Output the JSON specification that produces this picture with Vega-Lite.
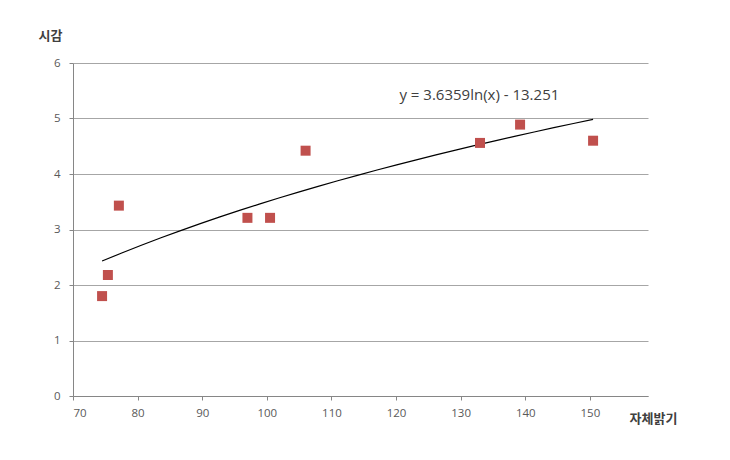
{
  "$schema": "https://vega.github.io/schema/vega-lite/v6.json",
  "width": 575,
  "height": 333,
  "autosize": {"type": "none"},
  "padding": {"left": 73, "top": 63, "right": 82, "bottom": 64},
  "background": "white",
  "datasets": {
    "pts": [
      {"x": 74.5, "y": 1.8},
      {"x": 75.4, "y": 2.18},
      {"x": 77.1, "y": 3.43},
      {"x": 97.0, "y": 3.21},
      {"x": 100.5, "y": 3.21},
      {"x": 106.0, "y": 4.42},
      {"x": 133.0, "y": 4.56},
      {"x": 139.2, "y": 4.89},
      {"x": 150.5, "y": 4.6}
    ],
    "eq": [{"x": 132.9, "y": 5.43, "label": "y = 3.6359ln(x) - 13.251"}]
  },
  "layer": [
    {
      "data": {"name": "pts"},
      "transform": [{"regression": "y", "on": "x", "method": "log"}],
      "mark": {"type": "line", "color": "black", "strokeWidth": 1.2},
      "encoding": {
        "x": {"field": "x", "type": "quantitative"},
        "y": {"field": "y", "type": "quantitative"}
      }
    },
    {
      "data": {"name": "pts"},
      "mark": {"type": "point", "shape": "square", "filled": true, "size": 100, "color": "#C0504D", "opacity": 1},
      "encoding": {
        "x": {
          "field": "x", "type": "quantitative",
          "scale": {"domain": [70, 159], "nice": false, "zero": false},
          "axis": {
            "title": "자체밝기",
            "values": [70, 80, 90, 100, 110, 120, 130, 140, 150],
            "format": "d",
            "grid": false,
            "domainColor": "#868686",
            "tickColor": "#868686",
            "tickSize": 4,
            "labelPadding": 7,
            "labelFont": "Open Sans",
            "labelFontSize": 11.5,
            "labelColor": "#595959",
            "titleFont": "Noto Sans CJK KR",
            "titleFontSize": 13,
            "titleFontWeight": "bold",
            "titleColor": "#404040",
            "titleAnchor": "start",
            "titleAlign": "center",
            "titleBaseline": "middle",
            "titleX": 580,
            "titleY": 22
          }
        },
        "y": {
          "field": "y", "type": "quantitative",
          "scale": {"domain": [0, 6], "nice": false},
          "axis": {
            "title": "시감",
            "values": [0, 1, 2, 3, 4, 5, 6],
            "format": "d",
            "grid": true,
            "gridColor": "#a6a6a6",
            "gridWidth": 1,
            "domainColor": "#868686",
            "tickColor": "#868686",
            "tickSize": 4,
            "labelPadding": 9,
            "labelFont": "Open Sans",
            "labelFontSize": 11.5,
            "labelColor": "#595959",
            "titleFont": "Noto Sans CJK KR",
            "titleFontSize": 13,
            "titleFontWeight": "bold",
            "titleColor": "#404040",
            "titleAngle": 0,
            "titleAlign": "center",
            "titleBaseline": "middle",
            "titleX": -23,
            "titleY": -28
          }
        }
      }
    },
    {
      "data": {"name": "eq"},
      "mark": {"type": "text", "font": "Open Sans", "fontSize": 15, "color": "#404040", "align": "center", "baseline": "middle"},
      "encoding": {
        "x": {"field": "x", "type": "quantitative"},
        "y": {"field": "y", "type": "quantitative"},
        "text": {"field": "label"}
      }
    }
  ],
  "config": {"view": {"stroke": null}}
}
